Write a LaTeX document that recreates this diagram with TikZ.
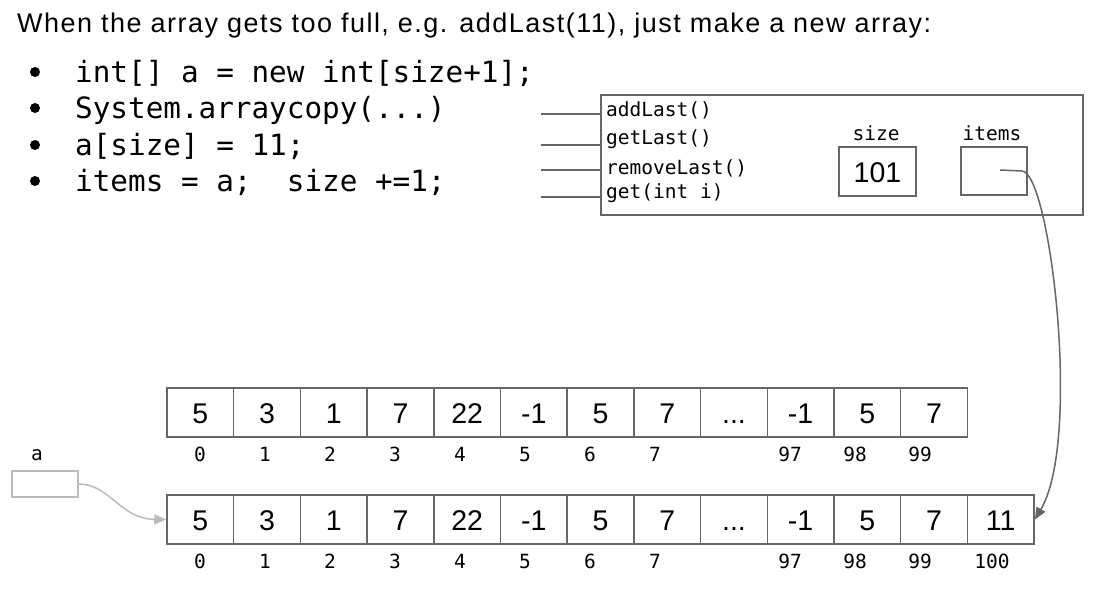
\documentclass[tikz,border=0pt]{standalone}
\usepackage{fontspec}
\setmainfont{Liberation Sans}
\setmonofont{DejaVu Sans Mono}
\newfontfamily\headfont[LetterSpace=5.5]{Liberation Sans}
\usetikzlibrary{arrows.meta}
\definecolor{bord}{HTML}{666666}
\definecolor{lgray}{HTML}{BBBBBB}
\newcommand\mydots{\mbox{...}}
\begin{document}
\begin{tikzpicture}[x=1pt,y=-1pt,
  cell/.style={draw=bord,line width=1.5pt,minimum width=66.7pt,minimum height=49pt,inner sep=0pt,text height=21pt,text depth=0pt,font=\fontsize{28.5}{30}\selectfont},
  idx/.style={font=\ttfamily\fontsize{19.5}{21}\selectfont,inner sep=0pt,text height=14pt,text depth=0pt},
  code/.style={font=\ttfamily\fontsize{29.3}{31}\selectfont,anchor=base west,inner sep=0pt},
  meth/.style={font=\ttfamily\fontsize{19.5}{21}\selectfont,anchor=west,inner sep=0pt},
  bul/.style={circle,fill=black,inner sep=0pt,minimum size=10pt},
  stub/.style={draw=bord,line width=1.5pt}
]
\useasboundingbox (0,0) rectangle (1107,589);
% heading
\node[anchor=base west,inner sep=0pt,font=\headfont\fontsize{27}{30}\selectfont] (head) at (17,32)
  {When the array gets too full, e.g. addLast(11), just make a new array:};
% bullets
\foreach \yy/\txt [count=\k] in {82/{int[] a = new int[size+1];},118/{System.arraycopy(\mydots)},155/{a[size] = 11;},191/{items = a;\ \ size +=1;}}{
  \node[bul] (bul\k) at (35,\yy-10) {};
  \node[code] (code\k) at (75,\yy) {\txt};
}
% object box
\node[draw=bord,line width=1.5pt,minimum width=482pt,minimum height=120pt,anchor=north west,inner sep=0pt] (obj) at (600,94) {};
\foreach \yy/\txt [count=\k] in {110/addLast(),139/getLast(),168/removeLast(),193/get(int i)}{
  \node[meth] (m\k) at (606,\yy) {\txt};
}
\foreach \yy [count=\k] in {114,145,170,197}{
  \coordinate (s\k) at (541,\yy);
  \coordinate (e\k) at (600,\yy);
  \draw[stub] (s\k) -- (e\k);
}
\node[meth,anchor=center] (sizel) at (876,133) {size};
\node[meth,anchor=center] (itemsl) at (992,133) {items};
\node[draw=bord,line width=1.5pt,minimum width=77pt,minimum height=49pt,inner sep=0pt,text height=21pt,text depth=0pt,font=\fontsize{28.5}{30}\selectfont] (sizebox) at (877.5,171.5) {101};
\node[draw=bord,line width=1.5pt,minimum width=66pt,minimum height=48pt,inner sep=0pt] (itemsbox) at (994,171) {};
% top array
\foreach \v [count=\i from 0] in {5,3,1,7,22,-1,5,7,\mydots,-1,5,7}{
  \node[cell] (t\i) at ({167+66.7*(\i+0.5)},412.5) {\v};
}
\foreach \v [count=\i from 0] in {5,3,1,7,22,-1,5,7,\mydots,-1,5,7,11}{
  \node[cell] (b\i) at ({167+66.7*(\i+0.5)},519.5) {\v};
}
\foreach \x/\l in {200/0,265/1,330/2,395/3,460/4,525/5,590/6,655/7,790/97,855/98,920/99}{
  \node[idx] (ti\l) at (\x,454) {\l};
}
\foreach \x/\l in {200/0,265/1,330/2,395/3,460/4,525/5,590/6,655/7,790/97,855/98,920/99,992/100}{
  \node[idx] (bi\l) at (\x,561) {\l};
}
% a variable
\node[idx] (alab) at (37,453) {a};
\node[draw=lgray,line width=1.5pt,minimum width=66pt,minimum height=26pt,inner sep=0pt] (abox) at (45,484) {};
\draw[lgray,line width=1.5pt,-{Triangle[length=12pt,width=10pt]}] (abox.east) .. controls (110,484) and (120,519) .. (b0.west);
% items pointer
\coordinate (ip) at (1000,170);
\draw[bord,line width=1.5pt,-{Triangle[length=12pt,width=10pt]}] (ip) -- (1022,171) .. controls (1050,172) and (1082,440) .. (b12.east);
\end{tikzpicture}
\end{document}
